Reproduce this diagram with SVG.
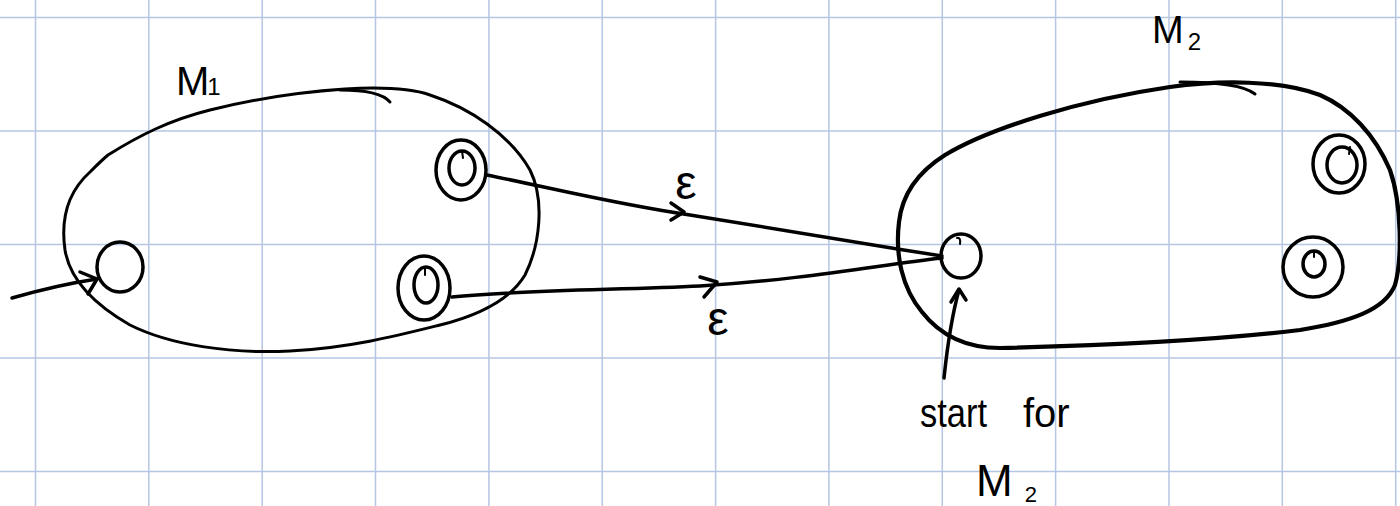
<svg xmlns="http://www.w3.org/2000/svg" width="1400" height="506" viewBox="0 0 1400 506">
<style>
.grid line{stroke:#b4c6e2;stroke-width:1.5}
.ink{fill:none;stroke:#000;stroke-width:3.5;stroke-linecap:round;stroke-linejoin:round}
.thick{fill:none;stroke:#000;stroke-width:4.2;stroke-linecap:round;stroke-linejoin:round}
.thin{fill:none;stroke:#000;stroke-width:3;stroke-linecap:round;stroke-linejoin:round}
.tick{fill:none;stroke:#000;stroke-width:2;stroke-linecap:round}
.lbl{font-family:"Liberation Sans",Arial,sans-serif;fill:#000}
</style>
<rect width="1400" height="506" fill="#fff"/>
<g class="grid">
<line x1="35.5" y1="0" x2="35.5" y2="506"/><line x1="148.8" y1="0" x2="148.8" y2="506"/><line x1="262.2" y1="0" x2="262.2" y2="506"/><line x1="375.5" y1="0" x2="375.5" y2="506"/><line x1="488.9" y1="0" x2="488.9" y2="506"/><line x1="602.2" y1="0" x2="602.2" y2="506"/><line x1="715.6" y1="0" x2="715.6" y2="506"/><line x1="828.9" y1="0" x2="828.9" y2="506"/><line x1="942.3" y1="0" x2="942.3" y2="506"/><line x1="1055.6" y1="0" x2="1055.6" y2="506"/><line x1="1169" y1="0" x2="1169" y2="506"/><line x1="1282.3" y1="0" x2="1282.3" y2="506"/><line x1="1395.7" y1="0" x2="1395.7" y2="506"/>
<line x1="0" y1="17.5" x2="1400" y2="17.5"/><line x1="0" y1="131" x2="1400" y2="131"/><line x1="0" y1="244.5" x2="1400" y2="244.5"/><line x1="0" y1="358" x2="1400" y2="358"/><line x1="0" y1="471.5" x2="1400" y2="471.5"/>
</g>
<g id="M1">
<path class="thin" d="M108,155 C140,135 170,120 210,110 C250,100 300,92 345,89 C380,87 410,88 430,95 C470,108 510,135 530,170 C545,200 540,245 525,275 C510,300 480,315 440,325 C400,335 350,348 290,351 C230,354 170,345 130,325 C95,305 70,280 65,250 C60,215 70,190 90,172 C96,166 102,160 108,155"/>
<path class="thin" d="M340,90 Q380,90 390,102"/>
<text class="lbl" x="176" y="95" font-size="40">M<tspan font-size="24" dx="-2">1</tspan></text>
</g>
<g id="q0">
<ellipse class="ink" cx="120" cy="267" rx="23" ry="25"/>
</g>
<g id="f1">
<ellipse class="ink" cx="461" cy="170" rx="25" ry="30"/>
<ellipse class="ink" cx="462" cy="168" rx="13" ry="17"/>
<path class="tick" d="M462,151 L463,158"/>
</g>
<g id="f2">
<ellipse class="ink" cx="424" cy="288" rx="26" ry="32"/>
<ellipse class="ink" cx="426" cy="285" rx="12" ry="18"/>
<path class="tick" d="M425,267 L425,275"/>
</g>
<g id="M2">
<path class="thick" d="M945,155 C990,128 1080,100 1170,87 C1220,80 1280,80 1320,95 C1350,108 1375,135 1390,170 C1402,205 1402,260 1395,285 C1385,310 1350,322 1300,330 C1200,342 1080,346 1000,348 C965,348 940,335 922,312 C902,288 895,255 899,222 C902,195 918,172 945,155"/>
<path class="thin" d="M1180,82 Q1240,82 1255,94"/>
<text class="lbl" x="1152" y="43" font-size="38">M<tspan font-size="24" dx="4" dy="7">2</tspan></text>
</g>
<g id="s2">
<ellipse class="ink" cx="961" cy="256" rx="20" ry="22"/>
<path class="tick" d="M957,238 Q961,237 960,244"/>
</g>
<g id="g1">
<ellipse class="ink" cx="1339" cy="164" rx="26" ry="29"/>
<ellipse class="ink" cx="1342" cy="165" rx="15" ry="18"/>
<path class="tick" d="M1350,147 L1349,154"/>
</g>
<g id="g2">
<ellipse class="ink" cx="1313" cy="267" rx="30" ry="30"/>
<ellipse class="ink" cx="1314" cy="264" rx="11" ry="13"/>
<path class="tick" d="M1314,251 L1314,257"/>
</g>
<g id="connectors">
<path class="ink" d="M12,298 C40,290 70,283 97,279"/>
<polyline class="ink" points="80,272 97,279 88,294"/>
<path class="ink" d="M487,175 C560,190 620,205 690,215 C780,230 860,243 942,256"/>
<polyline class="ink" points="671,203 684,212 671,220"/>
<path class="ink" d="M452,297 C520,290 620,290 700,286 C800,280 880,265 942,258"/>
<polyline class="ink" points="700,277 717,282 704,297"/>
<path class="ink" d="M944,378 C948,340 952,315 959,290"/>
<polyline class="ink" points="951,302 959,289 966,300"/>
<text class="lbl" x="686" y="199" font-size="48" text-anchor="middle">ε</text>
<text class="lbl" x="718" y="335" font-size="48" text-anchor="middle">ε</text>
</g>
<g id="note">
<text class="lbl" x="920" y="427" font-size="40" textLength="67" lengthAdjust="spacingAndGlyphs">start</text>
<text class="lbl" x="1023" y="427" font-size="40">for</text>
<text class="lbl" x="976" y="496" font-size="44">M<tspan font-size="22" dx="12" dy="6">2</tspan></text>
</g>
</svg>
